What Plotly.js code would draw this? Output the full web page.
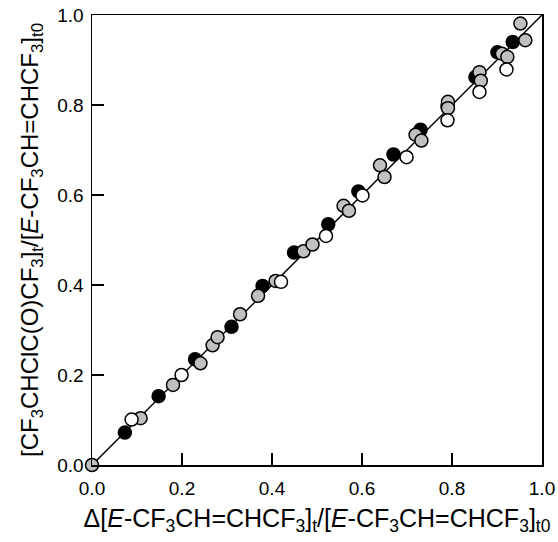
<!DOCTYPE html>
<html>
<head>
<meta charset="utf-8">
<script src="https://cdn.plot.ly/plotly-3.0.1.min.js"></script>
<style>html,body{margin:0;padding:0;background:#fff;}#chart{width:558px;height:542px;}</style>
</head>
<body>
<div id="chart"></div>
<script>
// Series: black filled circles
const blackX = [0.073, 0.148, 0.229, 0.310, 0.379, 0.449, 0.525, 0.592, 0.670, 0.730, 0.790, 0.852, 0.901, 0.935];
const blackY = [0.072, 0.153, 0.235, 0.307, 0.398, 0.472, 0.535, 0.608, 0.690, 0.745, 0.797, 0.862, 0.917, 0.940];
// Series: grey filled circles
const greyX = [0.000, 0.108, 0.180, 0.241, 0.268, 0.279, 0.329, 0.369, 0.408, 0.470, 0.490, 0.559, 0.571, 0.640, 0.650, 0.719, 0.732, 0.791, 0.791, 0.861, 0.864, 0.911, 0.923, 0.963, 0.952];
const greyY = [0.000, 0.104, 0.178, 0.226, 0.266, 0.284, 0.335, 0.376, 0.409, 0.475, 0.490, 0.576, 0.565, 0.666, 0.640, 0.734, 0.721, 0.807, 0.793, 0.873, 0.854, 0.914, 0.907, 0.944, 0.981];
// Series: open circles
const openX = [0.088, 0.199, 0.420, 0.520, 0.601, 0.699, 0.790, 0.861, 0.921];
const openY = [0.101, 0.200, 0.407, 0.509, 0.599, 0.684, 0.766, 0.829, 0.879];
// 1:1 line
const lineX = [0, 1];
const lineY = [0, 1];
const tickVals = [0, 0.2, 0.4, 0.6, 0.8, 1.0];
const tickText = ["0.0", "0.2", "0.4", "0.6", "0.8", "1.0"];

const FONT = 'Liberation Sans, Arial, sans-serif';
const mk = (fill) => ({symbol: 'circle', size: 13, color: fill, line: {color: '#000', width: 1.5}});
const traces = [
  {x: lineX, y: lineY, mode: 'lines', line: {color: '#000', width: 1.5}, hoverinfo: 'skip', cliponaxis: false},
  {x: blackX, y: blackY, mode: 'markers', marker: mk('#000000'), cliponaxis: false},
  {x: greyX, y: greyY, mode: 'markers', marker: mk('#c0c0c0'), cliponaxis: false},
  {x: openX, y: openY, mode: 'markers', marker: mk('#ffffff'), cliponaxis: false}
];
const axisCommon = {
  range: [0, 1], tickvals: tickVals, ticktext: tickText,
  ticks: 'inside', ticklen: 12, tickwidth: 1.5, tickcolor: '#000',
  showline: true, linecolor: '#000', linewidth: 1.5, mirror: true,
  showgrid: false, zeroline: false, automargin: false,
  tickfont: {family: FONT, size: 19, color: '#000'}
};
const layout = {
  width: 558, height: 542,
  margin: {l: 92, r: 16, t: 15, b: 77},
  paper_bgcolor: '#fff', plot_bgcolor: '#fff',
  showlegend: false,
  font: {family: FONT, color: '#000'},
  xaxis: Object.assign({}, axisCommon, {
    ticklabelstandoff: 6,
    title: {text: 'Δ[<i>E</i>-CF<sub>3</sub>CH=CHCF<sub>3</sub>]<sub>t</sub>/[<i>E</i>-CF<sub>3</sub>CH=CHCF<sub>3</sub>]<sub>t0</sub>',
            font: {size: 25, family: FONT, color: '#000'}, standoff: 11}
  }),
  yaxis: Object.assign({}, axisCommon, {
    ticklabelstandoff: 3,
    title: {text: '[CF<sub>3</sub>CHClC(O)CF<sub>3</sub>]<sub>t</sub>/[<i>E</i>-CF<sub>3</sub>CH=CHCF<sub>3</sub>]<sub>t0</sub>',
            font: {size: 24, family: FONT, color: '#000'}, standoff: 12}
  })
};
Plotly.newPlot('chart', traces, layout, {displayModeBar: false, staticPlot: true});
</script>
</body>
</html>
